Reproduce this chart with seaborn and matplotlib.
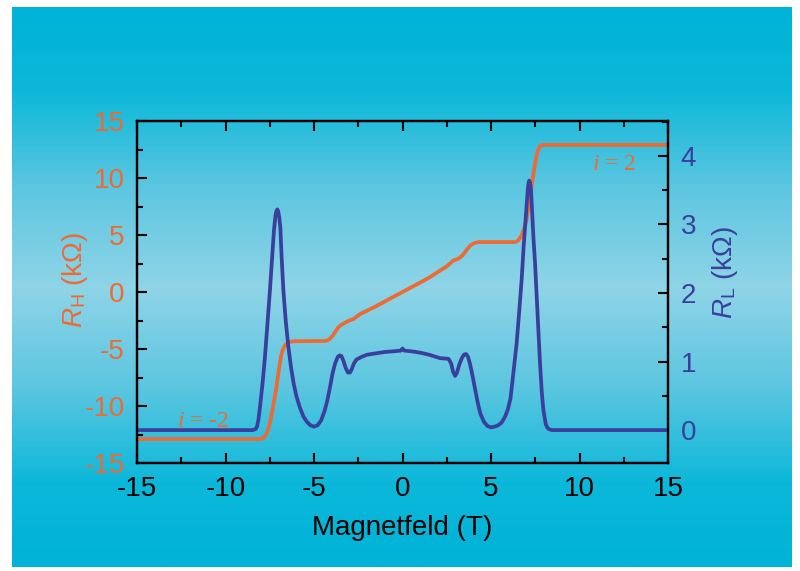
import numpy as np
import matplotlib
matplotlib.use("Agg")
import matplotlib.pyplot as plt
from matplotlib.colors import LinearSegmentedColormap
from matplotlib.ticker import MultipleLocator
import seaborn as sns

# Hall-Widerstand R_H (kOhm) gegen Magnetfeld (T)
b_hall = [-15, -8.1, -7.95, -7.85, -7.75, -7.65, -7.55, -7.45, -7.35, -7.25,
          -7.15, -7.0, -6.86, -6.78, -6.7, -6.6, -6.5, -6.35, -6.15, -5.0,
          -4.4, -4.25, -4.1, -3.95, -3.8, -3.65, -3.5, -3.35, -3.2, -3.0,
          -2.78, -2.4, -1.5, -0.75, 0, 0.75, 1.5, 2.12, 2.5, 2.87,
          3.15, 3.35, 3.53, 3.7, 3.85, 4.0, 4.15, 4.3, 5.0, 6.36,
          6.5, 6.62, 6.73, 6.88, 7.02, 7.16, 7.3, 7.44, 7.58, 7.65,
          7.72, 7.8, 7.9, 9, 15]
r_hall = [-12.9, -12.9, -12.88, -12.8, -12.6, -12.3, -11.8, -11.2, -10.4, -9.5,
          -8.6, -7.0, -5.6, -5.15, -4.85, -4.62, -4.48, -4.38, -4.32, -4.3,
          -4.3, -4.25, -4.1, -3.85, -3.5, -3.15, -2.92, -2.78, -2.66, -2.5,
          -2.38, -1.94, -1.25, -0.62, 0.0, 0.62, 1.25, 1.88, 2.25, 2.76,
          2.91, 3.15, 3.5, 3.85, 4.1, 4.25, 4.33, 4.38, 4.38, 4.38,
          4.48, 4.7, 4.97, 5.6, 6.44, 7.9, 9.38, 10.8, 12.03, 12.4,
          12.65, 12.82, 12.9, 12.9, 12.9]

# Laengswiderstand R_L (kOhm)
b_long = [-15, -9, -8.5, -8.4, -8.3, -8.22, -8.14, -8.05, -7.9, -7.77,
          -7.63, -7.49, -7.37, -7.26, -7.18, -7.12, -7.07, -7.02, -6.96, -6.9,
          -6.83, -6.73, -6.6, -6.45, -6.3, -6.15, -6.0, -5.8, -5.6, -5.4,
          -5.2, -5.0, -4.8, -4.6, -4.4, -4.25, -4.1, -3.95, -3.8, -3.65,
          -3.55, -3.45, -3.35, -3.2, -3.08, -2.97, -2.88, -2.75, -2.6, -2.3,
          -2.0, -1.5, -1.0, -0.5, -0.1, 0, 0.1, 0.5, 1.0, 1.5,
          2.12, 2.6, 2.75, 2.85, 2.97, 3.08, 3.2, 3.35, 3.47, 3.59,
          3.7, 3.82, 3.95, 4.1, 4.25, 4.4, 4.6, 4.8, 5.0, 5.2,
          5.4, 5.6, 5.8, 5.95, 6.1, 6.25, 6.45, 6.6, 6.73, 6.85,
          6.98, 7.08, 7.12, 7.16, 7.2, 7.26, 7.32, 7.4, 7.49, 7.63,
          7.77, 7.87, 7.96, 8.1, 8.2, 8.3, 8.45, 9, 15]
r_long = [0, 0, 0, 0.005, 0.015, 0.05, 0.15, 0.34, 0.7, 1.07,
          1.55, 2.04, 2.5, 2.92, 3.12, 3.2, 3.22, 3.19, 3.1, 2.95,
          2.53, 2.04, 1.6, 1.22, 0.92, 0.68, 0.5, 0.33, 0.2, 0.12,
          0.07, 0.05, 0.07, 0.14, 0.28, 0.43, 0.62, 0.83, 0.98, 1.07,
          1.09, 1.08, 1.02, 0.9, 0.84, 0.84, 0.88, 0.97, 1.03, 1.07,
          1.1, 1.12, 1.14, 1.15, 1.16, 1.19, 1.16, 1.15, 1.13, 1.1,
          1.05, 1.04, 0.97, 0.86, 0.79, 0.84, 0.95, 1.05, 1.1, 1.11,
          1.07, 0.96, 0.8, 0.6, 0.4, 0.24, 0.12, 0.06, 0.04, 0.05,
          0.07, 0.11, 0.2, 0.3, 0.46, 0.8, 1.27, 1.75, 2.19, 2.7,
          3.16, 3.52, 3.6, 3.64, 3.62, 3.5, 3.2, 2.8, 2.43, 1.7,
          0.97, 0.55, 0.29, 0.08, 0.03, 0.01, 0, 0, 0]

x_ticks = [-15, -10, -5, 0, 5, 10, 15]
rh_ticks = [-15, -10, -5, 0, 5, 10, 15]
rl_ticks = [0, 1, 2, 3, 4]

orange = "#EE6A33"
blue = "#3A3F9D"

sns.set_style("ticks")
plt.rcParams["font.family"] = ["Liberation Sans", "DejaVu Sans"]
plt.rcParams["mathtext.fontset"] = "custom"
plt.rcParams["mathtext.rm"] = "Liberation Sans"
plt.rcParams["mathtext.sf"] = "Liberation Sans:italic"
plt.rcParams["mathtext.it"] = "Liberation Serif:italic"
plt.rcParams["axes.unicode_minus"] = False

fig = plt.figure(figsize=(8, 5.71), dpi=100)
fig.patch.set_facecolor("white")

# cyan Hintergrund mit Verlauf
bg = fig.add_axes([12 / 800, 4 / 571, 780 / 800, 560 / 571], zorder=0)
bg_cmap = LinearSegmentedColormap.from_list(
    "bg", [(0, "#00b3d7"), (0.15, "#0cb8da"), (0.32, "#5cc6e0"), (0.5, "#8fd4e7"),
           (0.68, "#5cc6e0"), (0.85, "#0cb8da"), (1, "#00b3d7")])
bg.imshow(np.linspace(0, 1, 256).reshape(-1, 1), aspect="auto", cmap=bg_cmap,
          extent=[0, 1, 0, 1])
bg.axis("off")

ax = fig.add_axes([137 / 800, 1 - 463 / 571, 531 / 800, 342 / 571], zorder=1)
ax.set_facecolor("none")
ax2 = ax.twinx()

sns.lineplot(x=b_hall, y=r_hall, ax=ax, color=orange, lw=2.7)
sns.lineplot(x=b_long, y=r_long, ax=ax2, color=blue, lw=2.7)

ax.set_xlim(-15, 15)
ax.set_ylim(-15, 15)
ax2.set_ylim(-0.48, 4.51)
ax.set_xticks(x_ticks)
ax.set_yticks(rh_ticks)
ax2.set_yticks(rl_ticks)
ax.xaxis.set_minor_locator(MultipleLocator(2.5))
ax.yaxis.set_minor_locator(MultipleLocator(2.5))
ax2.yaxis.set_minor_locator(MultipleLocator(0.5))

for a in (ax, ax2):
    for s in a.spines.values():
        s.set_linewidth(1.6)
        s.set_color("black")

ax.tick_params(axis="x", which="both", direction="in", top=True, bottom=True,
               labelsize=20, pad=9, width=1.5, color="black", labelcolor="black")
ax.tick_params(axis="y", which="both", direction="in", left=True, right=False,
               labelsize=20, pad=9, width=1.5, color="black", labelcolor=orange)
ax2.tick_params(axis="y", which="both", direction="in", right=True, left=False,
                labelsize=20, pad=9, width=1.5, color="black", labelcolor=blue)
for a in (ax, ax2):
    a.tick_params(which="major", length=7)
    a.tick_params(which="minor", length=4)

ax.set_xlabel("Magnetfeld (T)", fontsize=20, labelpad=10, color="black")
ax.set_ylabel(r"$\mathsf{R}_\mathrm{H}$ (kΩ)", fontsize=20, color=orange, va="center")
ax.yaxis.set_label_coords(-0.117, 0.535)
ax2.set_ylabel(r"$\mathsf{R}_\mathrm{L}$ (kΩ)", fontsize=20, color=blue, va="center",
               rotation=90)
ax2.yaxis.set_label_coords(1.107, 0.558)

ax.text(-12.74, -11.8, r"$i$ = -2", fontfamily="Liberation Serif", fontsize=17,
        color=orange, ha="left", va="baseline")
ax.text(10.69, 10.68, r"$i$ = 2", fontfamily="Liberation Serif", fontsize=17,
        color=orange, ha="left", va="baseline")

fig.savefig("out.png", dpi=100)
